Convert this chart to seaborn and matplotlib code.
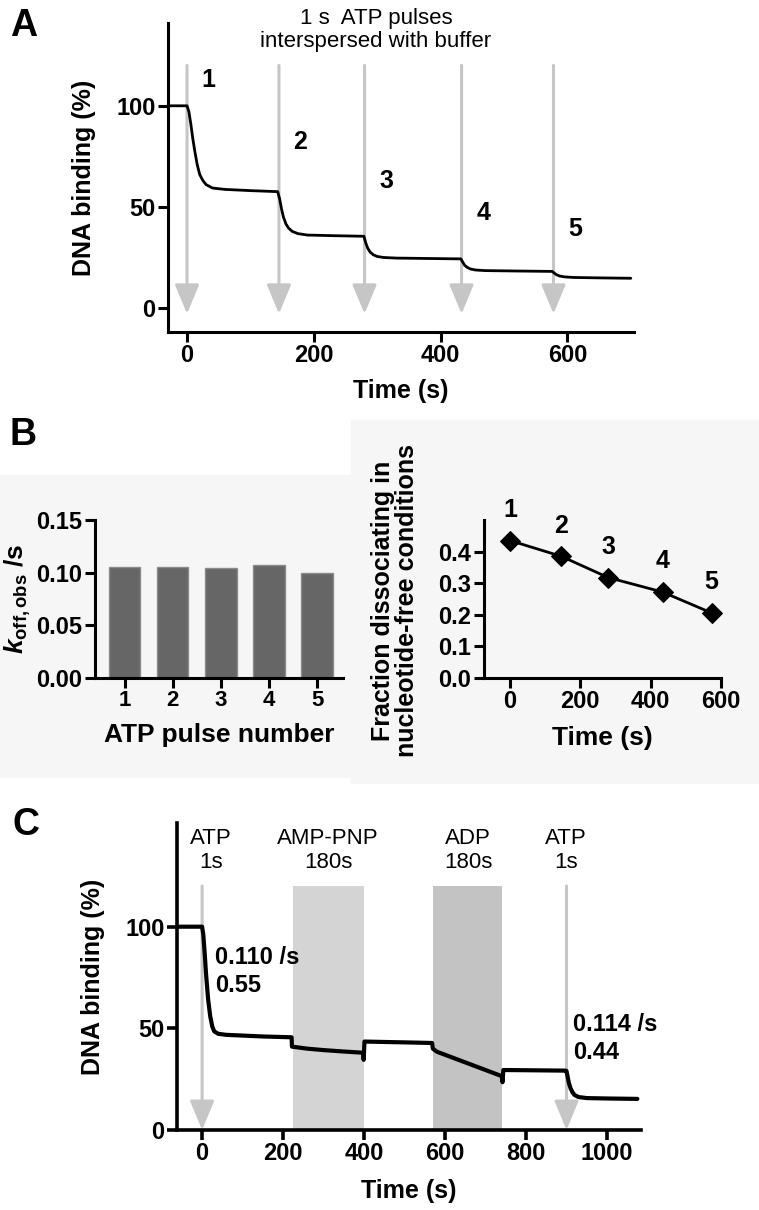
import numpy as np
import matplotlib
matplotlib.use('Agg')
import matplotlib.pyplot as plt
import seaborn as sns
from matplotlib.patches import Rectangle

# ---- data ----
# Panel A: DNA binding trace with 1 s ATP pulses
a_time = [-30, 0, 3, 6, 9, 12, 16, 20, 25, 30, 40, 60, 100, 143,
          146, 149, 152, 156, 160, 166, 175, 190, 230, 279,
          282, 285, 289, 294, 300, 310, 330, 380, 432,
          435, 438, 442, 447, 455, 470, 520, 576,
          579, 583, 588, 595, 610, 650, 700]
a_bind = [100, 100, 97, 91, 84, 78, 71, 66, 63, 61, 59.3, 58.6, 58, 57.5,
          54, 49, 45, 41.5, 39.5, 37.8, 36.7, 36.0, 35.7, 35.4,
          32, 29.5, 27.5, 26.2, 25.4, 24.9, 24.6, 24.4, 24.2,
          22.5, 21.0, 20.0, 19.2, 18.7, 18.4, 18.2, 18.0,
          17.2, 16.3, 15.7, 15.3, 15.0, 14.8, 14.6]
pulse_times = [0, 145, 280, 433, 578]
pulse_names = ['1', '2', '3', '4', '5']

# Panel B (left): k_off,obs per pulse
pulse_no = ['1', '2', '3', '4', '5']
koff = [0.105, 0.105, 0.104, 0.107, 0.0997]

# Panel B (right): fraction dissociating vs time
frac_time = [0, 146, 279, 434, 573]
frac = [0.435, 0.385, 0.318, 0.272, 0.206]

# Panel C: trace with ATP / AMP-PNP / ADP treatments
c_time = [-60, 0, 3, 6, 10, 15, 20, 25, 30, 40, 60, 150, 221,
          222, 260, 300, 350, 398, 399, 401, 450, 500, 568,
          570, 580, 600, 640, 680, 720, 740, 742, 744, 800, 898,
          900, 903, 906, 910, 915, 920, 930, 950, 1000, 1075]
c_bind = [100, 100, 96, 88, 76, 64, 56, 51, 48.5, 47.3, 46.8, 46.0, 45.6,
          41.0, 40.0, 39.3, 38.6, 38.0, 34.5, 43.5, 43.3, 43.1, 42.8,
          40.0, 38.5, 37.0, 34.0, 31.0, 28.0, 26.5, 23.5, 29.5, 29.4, 29.2,
          29.0, 26.0, 23.0, 20.5, 18.5, 17.2, 16.2, 15.7, 15.5, 15.3]
c_arrows = [0, 900]
c_spans = [(224, 400), (570, 741)]
c_span_colors = ['#d4d4d4', '#c3c3c3']
c_labels = ['ATP\n1s', 'AMP-PNP\n180s', 'ADP\n180s', 'ATP\n1s']
c_label_x = [22, 311, 657, 898]
c_fits = ['0.110 /s\n0.55', '0.114 /s\n0.44']

sns.set_style('ticks')
plt.rcParams['font.family'] = ['Liberation Sans', 'DejaVu Sans']
plt.rcParams['font.weight'] = 'bold'
plt.rcParams['axes.labelweight'] = 'bold'
plt.rcParams['text.color'] = 'black'
plt.rcParams['axes.labelcolor'] = 'black'
plt.rcParams['mathtext.fontset'] = 'custom'
plt.rcParams['mathtext.it'] = 'Liberation Sans:italic:bold'
plt.rcParams['mathtext.rm'] = 'Liberation Sans:bold'

W, H = 759, 1210
fig = plt.figure(figsize=(W / 100, H / 100), dpi=100)


def px_axes(left, top, right, bottom):
    return fig.add_axes([left / W, 1 - bottom / H, (right - left) / W, (bottom - top) / H])


def style(ax, lw=2.2):
    for s in ['top', 'right']:
        ax.spines[s].set_visible(False)
    for s in ['left', 'bottom']:
        ax.spines[s].set_linewidth(lw)
        ax.spines[s].set_color('black')
    ax.tick_params(width=lw, length=7, pad=2, labelsize=17, colors='black')


def place_labels(ax, xl, yl, xlab_y, ylab_x, size):
    ax.set_xlabel(xl, fontsize=size, fontweight='bold', va='center')
    ax.set_ylabel(yl, fontsize=size, fontweight='bold', va='center')
    ax.xaxis.set_label_coords(0.5, xlab_y)
    ax.yaxis.set_label_coords(ylab_x, 0.5)


# light grey background behind panel B
fig.add_artist(Rectangle((0, 1 - 777 / H), 351 / W, (777 - 475) / H,
                         transform=fig.transFigure, color='#f6f6f6', zorder=0))
fig.add_artist(Rectangle((351 / W, 1 - 783 / H), (W - 351) / W, (783 - 420) / H,
                         transform=fig.transFigure, color='#f6f6f6', zorder=0))

arrow_col = '#c6c6c6'

# ---- Panel A ----
axA = px_axes(168, 23, 634, 332)
axA.patch.set_alpha(0)
for x in pulse_times:
    axA.annotate('', xy=(x, -3), xytext=(x, 120),
                 arrowprops=dict(arrowstyle='-|>,head_length=1.8,head_width=0.75',
                                 color=arrow_col, lw=2.2, shrinkA=0, shrinkB=0,
                                 mutation_scale=10), zorder=1)
sns.lineplot(x=a_time, y=a_bind, ax=axA, color='black', lw=2, estimator=None,
             sort=False, zorder=3)
pulse_label_y = [113, 82, 63, 47, 39]
for x, yl, name in zip(pulse_times, pulse_label_y, pulse_names):
    axA.text(x + 34, yl, name, ha='center', va='center', fontsize=18)
axA.text(298, 137.5, '1 s  ATP pulses\ninterspersed with buffer', ha='center',
         va='center', fontsize=16, fontweight='normal', linespacing=1.15, clip_on=False)
axA.set_xlim(-30, 705)
axA.set_ylim(-12, 141)
axA.set_xticks([0, 200, 400, 600])
axA.set_yticks([0, 50, 100])
style(axA)
place_labels(axA, 'Time (s)', 'DNA binding (%)', -0.19, -0.18, 18)

# ---- Panel B left ----
axB1 = px_axes(95, 520, 343, 678)
axB1.patch.set_alpha(0)
sns.barplot(x=pulse_no, y=koff, ax=axB1, color='#666666', saturation=1, width=0.65,
            edgecolor='#8c8c8c', linewidth=1)
axB1.set_xlim(-0.62, 4.54)
axB1.set_ylim(0, 0.15)
axB1.set_yticks([0, 0.05, 0.10, 0.15])
axB1.set_yticklabels(['0.00', '0.05', '0.10', '0.15'])
style(axB1)
axB1.tick_params(axis='x', labelsize=16)
place_labels(axB1, 'ATP pulse number', r'$k_{\rm off,obs}$ /s', -0.36, -0.31, 19)

# ---- Panel B right ----
axB2 = px_axes(484, 520, 721, 678)
axB2.patch.set_alpha(0)
sns.lineplot(x=frac_time, y=frac, ax=axB2, color='black', lw=2, marker='D',
             markersize=10.5, markeredgecolor='black', estimator=None, clip_on=False)
for x, y, name in zip(frac_time, frac, pulse_names):
    axB2.annotate(name, (x, y), xytext=(0, 22), textcoords='offset points',
                  ha='center', va='center', fontsize=18)
axB2.set_xlim(-74, 600)
axB2.set_ylim(0, 0.5)
axB2.set_xticks([0, 200, 400, 600])
axB2.set_yticks([0, 0.1, 0.2, 0.3, 0.4])
axB2.set_yticklabels(['0.0', '0.1', '0.2', '0.3', '0.4'])
style(axB2)
place_labels(axB2, 'Time (s)', 'Fraction dissociating in\nnucleotide-free conditions',
             -0.38, -0.375, 18)
axB2.xaxis.label.set_fontsize(19)
axB2.yaxis.label.set_linespacing(1.0)
axB2.yaxis.set_label_coords(-0.375, 0.49)

# ---- Panel C ----
axC = px_axes(177, 823, 641, 1130)
axC.patch.set_alpha(0)
for (x0, x1), col in zip(c_spans, c_span_colors):
    axC.fill_between([x0, x1], 0, 120, color=col, lw=0, zorder=1)
for x in c_arrows:
    axC.annotate('', xy=(x, 0), xytext=(x, 120),
                 arrowprops=dict(arrowstyle='-|>,head_length=1.8,head_width=0.75',
                                 color=arrow_col, lw=2.2, shrinkA=0, shrinkB=0,
                                 mutation_scale=10), zorder=1)
sns.lineplot(x=c_time, y=c_bind, ax=axC, color='black', lw=3, estimator=None,
             sort=False, zorder=3)
for x, lab in zip(c_label_x, c_labels):
    axC.text(x, 137.5, lab, ha='center', va='center', fontsize=16,
             fontweight='normal', linespacing=1.2, clip_on=False)
axC.text(32, 78, c_fits[0], ha='left', va='center', fontsize=17, linespacing=1.3)
axC.text(916, 45, c_fits[1], ha='left', va='center', fontsize=17, linespacing=1.3)
axC.set_xlim(-62, 1084)
axC.set_ylim(0, 151)
axC.set_xticks([0, 200, 400, 600, 800, 1000])
axC.set_yticks([0, 50, 100])
style(axC, lw=2.6)
place_labels(axC, 'Time (s)', 'DNA binding (%)', -0.2, -0.18, 18)

# panel letters
fig.text(10 / W, 1 - 26 / H, 'A', fontsize=27, va='center', ha='left')
fig.text(10 / W, 1 - 435 / H, 'B', fontsize=27, va='center', ha='left')
fig.text(12 / W, 1 - 825 / H, 'C', fontsize=27, va='center', ha='left')

fig.savefig('out.png', dpi=100)
